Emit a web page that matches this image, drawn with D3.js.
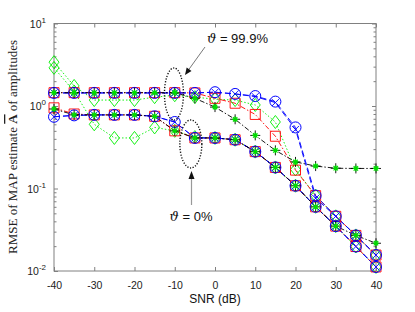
<!DOCTYPE html>
<html>
<head>
<meta charset="utf-8">
<style>
  body { margin: 0; background: #fff; }
  svg { display: block; font-family: "Liberation Sans", Arial, sans-serif; }
  .tick text { font-size: 10.5px; fill: #222; }
</style>
<script src="https://cdn.jsdelivr.net/npm/d3@7"></script>
</head>
<body>
<svg id="chart" width="415" height="312"></svg>
<script>
// SNR grid (dB)
var snr = [-40, -35, -30, -25, -20, -15, -10, -5, 0, 5, 10, 15, 20, 25, 30, 35, 40];

// theta = 99.9 %
var circHi = [1.44, 1.44, 1.44, 1.44, 1.44, 1.44, 1.44, 1.44, 1.47, 1.40, 1.32, 1.13, 0.55, 0.082, 0.046, 0.027, 0.0156];
var crossHi = [1.44, 1.44, 1.44, 1.44, 1.44, 1.44, 1.44, 1.44, 1.47, 1.40, 1.30, 1.10, 0.52, 0.076, 0.046, 0.027, 0.0156];
var sqHi = [1.45, 1.45, 1.45, 1.45, 1.45, 1.45, 1.45, 1.44, 1.24, 1.08, 0.79, 0.43, 0.167, 0.082, 0.046, 0.027, 0.0156];
var dmHi = [3.4, 1.75, 1.18, 1.18, 1.18, 1.28, 1.35, 1.28, 1.21, 1.18, 1.03, 0.64, 0.17, 0.082, 0.046, 0.027, 0.0156];
var plusHi = [1.45, 1.45, 1.45, 1.45, 1.45, 1.45, 1.45, 1.24, 0.97, 0.69, 0.44, 0.29, 0.21, 0.187, 0.176, 0.175, 0.175];

// theta = 0 %
var circLo = [0.74, 0.77, 0.78, 0.78, 0.78, 0.75, 0.64, 0.41, 0.41, 0.39, 0.28, 0.18, 0.108, 0.06, 0.035, 0.0198, 0.0112];
var sqLo = [0.95, 0.80, 0.78, 0.78, 0.78, 0.75, 0.50, 0.41, 0.41, 0.39, 0.28, 0.18, 0.108, 0.06, 0.035, 0.0198, 0.0112];
var dmLo = [2.9, 1.5, 0.60, 0.41, 0.41, 0.55, 0.50, 0.42, 0.41, 0.39, 0.28, 0.18, 0.108, 0.06, 0.035, 0.0198, 0.0112];
var plusLo = [0.92, 0.78, 0.78, 0.78, 0.78, 0.75, 0.50, 0.41, 0.41, 0.39, 0.28, 0.18, 0.108, 0.06, 0.035, 0.027, 0.0217];

var xTicks = [-40, -30, -20, -10, 0, 10, 20, 30, 40];
var yTicks = [0.01, 0.1, 1, 10];
var yExp = ["-2", "-1", "0", "1"];

var svg = d3.select("#chart");
var x = d3.scaleLinear().domain([-40, 40]).range([54, 376]);
var y = d3.scaleLog().domain([0.01, 10]).range([271, 23.5]);

var axisCol = "#808080";

// minor ticks for log axis
var minor = [];
[0.01, 0.1, 1].forEach(function(d) {
  for (var k = 2; k <= 9; k++) minor.push(d * k);
});

svg.append("g").attr("transform", "translate(0,271)")
  .call(d3.axisBottom(x).tickValues(xTicks).tickSizeInner(-4).tickSizeOuter(0).tickPadding(11)
    .tickFormat(function(d) { return String(d); }));
svg.append("g").attr("transform", "translate(0,23.5)")
  .call(d3.axisTop(x).tickValues(xTicks).tickSizeInner(-4).tickSizeOuter(0).tickFormat(""));
svg.append("g").attr("transform", "translate(54,0)")
  .call(d3.axisLeft(y).tickValues(yTicks).tickSizeInner(-4).tickSizeOuter(0).tickFormat(""));
svg.append("g").attr("transform", "translate(376,0)")
  .call(d3.axisRight(y).tickValues(yTicks).tickSizeInner(-4).tickSizeOuter(0).tickFormat(""));
svg.append("g").attr("transform", "translate(54,0)")
  .call(d3.axisLeft(y).tickValues(minor).tickSizeInner(-2.5).tickSizeOuter(0).tickFormat(""));
svg.append("g").attr("transform", "translate(376,0)")
  .call(d3.axisRight(y).tickValues(minor).tickSizeInner(-2.5).tickSizeOuter(0).tickFormat(""));

svg.selectAll(".domain").remove();
svg.selectAll(".tick line").attr("stroke", axisCol);
svg.append("rect").attr("x", 54).attr("y", 23.5).attr("width", 322).attr("height", 247.5)
  .attr("fill", "none").attr("stroke", axisCol).attr("stroke-width", 1);

// y tick labels 10^k
yTicks.forEach(function(d, i) {
  var t = svg.append("text").attr("x", 46).attr("y", y(d) + 4)
    .attr("text-anchor", "end").style("font-size", "10.5px").attr("fill", "#222");
  t.append("tspan").text("10");
  t.append("tspan").attr("dy", -5).style("font-size", "8px").text(yExp[i]);
});

// labels
svg.append("text").attr("x", 215).attr("y", 303).attr("text-anchor", "middle")
  .style("font-size", "12px").attr("fill", "#111").text("SNR (dB)");
var yt = svg.append("text").attr("transform", "translate(17,147) rotate(-90)")
  .attr("text-anchor", "middle").style("font-family", "'Liberation Serif', 'Times New Roman', serif")
  .style("font-size", "13px").attr("fill", "#222");
yt.append("tspan").text("RMSE of MAP estimate ");
yt.append("tspan").style("font-weight", "bold").style("text-decoration", "overline").text("A");
yt.append("tspan").text(" of amplitudes");

var line = d3.line().x(function(d) { return x(d[0]); }).y(function(d) { return y(d[1]); });
function pts(arr) { return snr.map(function(s, i) { return [s, arr[i]]; }); }

var series = [
  { v: dmHi, col: "#00ee00", dash: "1.5,2", m: "diamond" },
  { v: dmLo, col: "#00ee00", dash: "1.5,2", m: "diamond" },
  { v: sqHi, col: "#ff0000", dash: "5,2,1.5,2", m: "square" },
  { v: sqLo, col: "#ff0000", dash: "5,2,1.5,2", m: "square" },
  { v: circHi, col: "#0000ff", dash: "6,3", m: "circle" },
  { v: crossHi, col: "#0000ff", dash: "6,3", m: "cross" },
  { v: circLo, col: "#0000ff", dash: "6,3", m: "circle" },
  { v: circLo, col: "#0000ff", dash: "6,3", m: "cross" },
  { v: plusHi, col: "#000000", dash: "5,2,1.5,2", m: "plus" },
  { v: plusLo, col: "#000000", dash: "5,2,1.5,2", m: "plus" },
  { v: plusHi, col: "#00dd00", dash: null, m: "star" },
  { v: plusLo, col: "#00dd00", dash: null, m: "star" }
];

function markerPath(m) {
  if (m === "diamond") return "M0,-6.5L5,0L0,6.5L-5,0Z";
  if (m === "square") return "M-5,-5H5V5H-5Z";
  if (m === "cross") return "M-3.5,-3.5L3.5,3.5M-3.5,3.5L3.5,-3.5";
  if (m === "plus") return "M-5,0H5M0,-5V5";
  if (m === "star") return "M-3,0H3M0,-3V3M-2.2,-2.2L2.2,2.2M-2.2,2.2L2.2,-2.2";
  return null;
}

series.forEach(function(s) {
  if (s.dash) {
    svg.append("path").datum(pts(s.v)).attr("d", line)
      .attr("fill", "none").attr("stroke", s.col).attr("stroke-width", 0.9)
      .attr("stroke-dasharray", s.dash);
  }
});

series.forEach(function(s) {
  var g = svg.append("g");
  var sel = g.selectAll("g").data(pts(s.v)).enter().append("g")
    .attr("transform", function(d) { return "translate(" + x(d[0]) + "," + y(d[1]) + ")"; });
  if (s.m === "circle") {
    sel.append("circle").attr("r", 5.5).attr("fill", "none").attr("stroke", s.col).attr("stroke-width", 1);
  } else {
    sel.append("path").attr("d", markerPath(s.m)).attr("fill", "none")
      .attr("stroke", s.col).attr("stroke-width", s.m === "star" ? 1.2 : 0.9);
  }
});

// annotations
var ann = svg.append("g");
ann.append("ellipse").attr("cx", x(-10.2)).attr("cy", 94).attr("rx", 9.5).attr("ry", 26)
  .attr("fill", "none").attr("stroke", "#111").attr("stroke-width", 1.4).attr("stroke-dasharray", "1.2,1.6");
ann.append("ellipse").attr("cx", x(-6)).attr("cy", 144).attr("rx", 11).attr("ry", 24)
  .attr("fill", "none").attr("stroke", "#111").attr("stroke-width", 1.4).attr("stroke-dasharray", "1.2,1.6");

ann.append("line").attr("x1", 205).attr("y1", 47).attr("x2", 187).attr("y2", 72)
  .attr("stroke", "#555").attr("stroke-width", 0.8);
ann.append("path").attr("d", "M0,0L-3,-7L3,-7Z")
  .attr("transform", "translate(185,75) rotate(" + (Math.atan2(25, -18) * 180 / Math.PI - 90) + ")")
  .attr("fill", "#111");
ann.append("text").attr("x", 207).attr("y", 43).style("font-size", "13px").attr("fill", "#111")
  .html("<tspan style='font-family:\"DejaVu Serif\",serif;font-style:italic'>ϑ</tspan> = 99.9%");

ann.append("line").attr("x1", 191.5).attr("y1", 205).attr("x2", 191.5).attr("y2", 178)
  .attr("stroke", "#999").attr("stroke-width", 1.2);
ann.append("path").attr("d", "M191.5,171L188.5,179L194.5,179Z").attr("fill", "#111");
ann.append("text").attr("x", 191).attr("y", 221).attr("text-anchor", "middle")
  .style("font-size", "13px").attr("fill", "#111")
  .html("<tspan style='font-family:\"DejaVu Serif\",serif;font-style:italic'>ϑ</tspan> = 0%");
</script>
</body>
</html>
